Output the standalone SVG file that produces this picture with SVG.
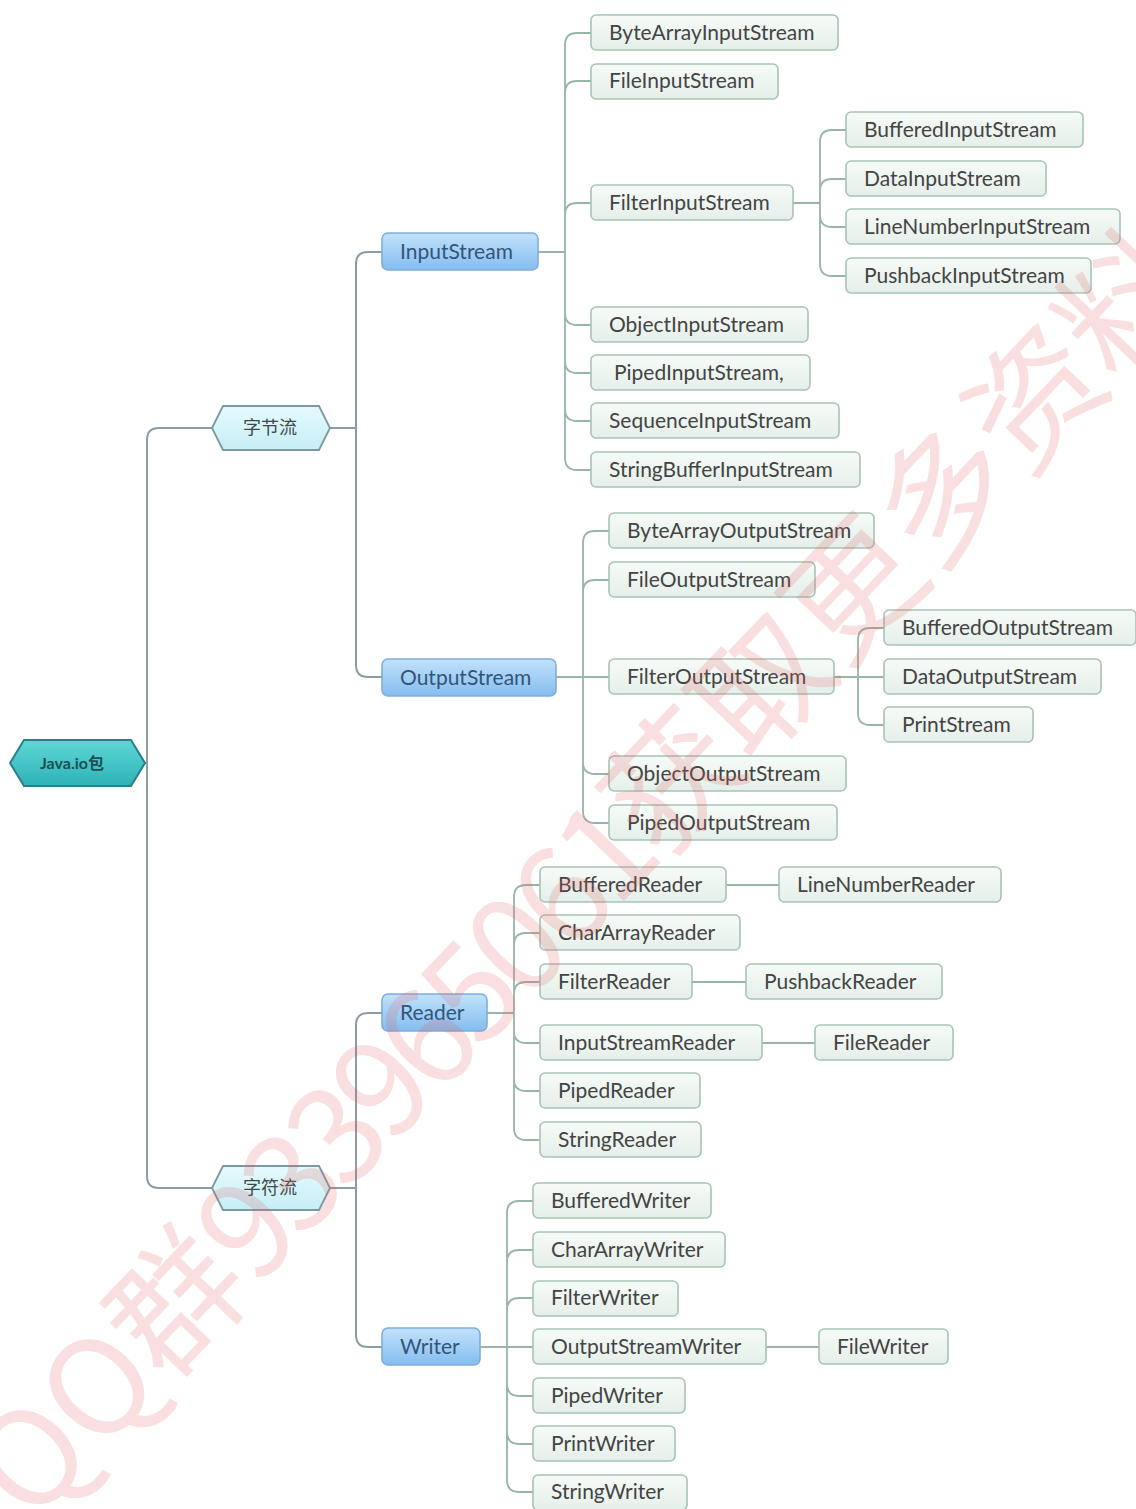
<svg xmlns="http://www.w3.org/2000/svg" width="1136" height="1509" viewBox="0 0 1136 1509">
<defs>
<linearGradient id="gLeaf" x1="0" y1="0" x2="0" y2="1"><stop offset="0" stop-color="#f6fbf8"/><stop offset="1" stop-color="#e5efe9"/></linearGradient>
<linearGradient id="gBlue" x1="0" y1="0" x2="0" y2="1"><stop offset="0" stop-color="#c2e2fb"/><stop offset="1" stop-color="#84bdef"/></linearGradient>
<linearGradient id="gCyan" x1="0" y1="0" x2="0" y2="1"><stop offset="0" stop-color="#e6fafd"/><stop offset="1" stop-color="#c6eef5"/></linearGradient>
<linearGradient id="gRoot" x1="0" y1="0" x2="0" y2="1"><stop offset="0" stop-color="#5fd6d6"/><stop offset="1" stop-color="#2db3b6"/></linearGradient>
<style>
.leaf rect{fill:url(#gLeaf);stroke:#a8c3b5;stroke-width:1.6}
.leaf text{font-family:Lato,"Liberation Sans",sans-serif;font-size:21px;fill:#444444}
.blue rect{fill:url(#gBlue);stroke:#7eaedb;stroke-width:1.6}
.blue text{font-family:Lato,"Liberation Sans",sans-serif;font-size:21px;fill:#33557a}
.hex polygon{fill:url(#gCyan);stroke:#7c98a0;stroke-width:1.8}
.hex text{font-family:"Noto Sans CJK SC",sans-serif;font-size:18px;fill:#3d4a4a;text-anchor:middle}
.root polygon{fill:url(#gRoot);stroke:#2b7f86;stroke-width:2}
.root text{font-family:Lato,"Noto Sans CJK SC",sans-serif;font-size:16px;font-weight:bold;fill:#1b4d52;text-anchor:middle}
.c1 path{fill:none;stroke:#8a9ca6;stroke-width:2}
.c2 path{fill:none;stroke:#98b6a7;stroke-width:1.8}
.wm{font-family:"Noto Sans CJK SC",sans-serif;font-size:132px;font-weight:normal;fill:#e06060;fill-opacity:0.2}
</style>
</defs>
<rect width="1136" height="1509" fill="#ffffff"/>

<g id="connectors">
<g class="c1">
<path d="M145,763 L147,763 M147,763 L147,440 Q147,428 159,428 L212,428 M147,763 L147,1176 Q147,1188 159,1188 L212,1188"/>
<path d="M330,428 L356,428 M356,428 L356,264 Q356,252 368,252 L382,252 M356,428 L356,665 Q356,677 368,677 L382,677"/>
<path d="M330,1188 L356,1188 M356,1188 L356,1025 Q356,1013 368,1013 L382,1013 M356,1188 L356,1335 Q356,1347 368,1347 L382,1347"/>
</g>
<g class="c2">
<path d="M538,252 L565,252 M565,252 L565,45 Q565,33 577,33 L591,33 M565,252 L565,93 Q565,81 577,81 L591,81 M565,252 L565,215 Q565,203 577,203 L591,203 M565,252 L565,313 Q565,325 577,325 L591,325 M565,252 L565,361 Q565,373 577,373 L591,373 M565,252 L565,409 Q565,421 577,421 L591,421 M565,252 L565,458 Q565,470 577,470 L591,470"/>
<path d="M793,203 L820,203 M820,203 L820,142 Q820,130 832,130 L846,130 M820,203 L820,191 Q820,179 832,179 L846,179 M820,203 L820,215 Q820,227 832,227 L846,227 M820,203 L820,264 Q820,276 832,276 L846,276"/>
<path d="M556,677 L583,677 M583,677 L583,543 Q583,531 595,531 L609,531 M583,677 L583,592 Q583,580 595,580 L609,580 M583,677 L609,677 M583,677 L583,762 Q583,774 595,774 L609,774 M583,677 L583,811 Q583,823 595,823 L609,823"/>
<path d="M834,677 L858,677 M858,677 L858,640 Q858,628 870,628 L884,628 M858,677 L884,677 M858,677 L858,713 Q858,725 870,725 L884,725"/>
<path d="M487,1013 L514,1013 M514,1013 L514,897 Q514,885 526,885 L540,885 M514,1013 L514,945 Q514,933 526,933 L540,933 M514,1013 L514,994 Q514,982 526,982 L540,982 M514,1013 L514,1031 Q514,1043 526,1043 L540,1043 M514,1013 L514,1079 Q514,1091 526,1091 L540,1091 M514,1013 L514,1128 Q514,1140 526,1140 L540,1140"/>
<path d="M726,885 L779,885 M692,982 L746,982 M762,1043 L815,1043"/>
<path d="M480,1347 L507,1347 M507,1347 L507,1213 Q507,1201 519,1201 L533,1201 M507,1347 L507,1262 Q507,1250 519,1250 L533,1250 M507,1347 L507,1310 Q507,1298 519,1298 L533,1298 M507,1347 L533,1347 M507,1347 L507,1384 Q507,1396 519,1396 L533,1396 M507,1347 L507,1432 Q507,1444 519,1444 L533,1444 M507,1347 L507,1480 Q507,1492 519,1492 L533,1492"/>
<path d="M766,1347 L819,1347"/>
</g>
</g>

<g id="root" class="root"><polygon points="10,763 24,740 131,740 145,763 131,786 24,786"/><text x="72" y="769">Java.io包</text></g>
<g id="byte" class="hex"><polygon points="212,428 223,406 319,406 330,428 319,450 223,450"/><text x="270" y="434">字节流</text></g>
<g id="char" class="hex"><polygon points="212,1188 223,1166 319,1166 330,1188 319,1210 223,1210"/><text x="270" y="1194">字符流</text></g>

<g id="InputStream" class="blue"><rect x="382" y="233" width="156" height="37" rx="6"/><text x="400" y="259">InputStream</text></g>
<g id="OutputStream" class="blue"><rect x="382" y="659" width="174" height="37" rx="6"/><text x="400" y="685">OutputStream</text></g>
<g id="Reader" class="blue"><rect x="382" y="994" width="105" height="37" rx="6"/><text x="400" y="1020">Reader</text></g>
<g id="Writer" class="blue"><rect x="382" y="1328" width="98" height="37" rx="6"/><text x="400" y="1354">Writer</text></g>

<g id="ByteArrayInputStream" class="leaf"><rect x="591" y="15" width="247" height="35" rx="5"/><text x="609" y="40">ByteArrayInputStream</text></g>
<g id="FileInputStream" class="leaf"><rect x="591" y="64" width="187" height="35" rx="5"/><text x="609" y="88">FileInputStream</text></g>
<g id="FilterInputStream" class="leaf"><rect x="591" y="185" width="202" height="35" rx="5"/><text x="609" y="210">FilterInputStream</text></g>
<g id="ObjectInputStream" class="leaf"><rect x="591" y="307" width="217" height="35" rx="5"/><text x="609" y="332">ObjectInputStream</text></g>
<g id="PipedInputStream" class="leaf"><rect x="591" y="355" width="219" height="35" rx="5"/><text x="614" y="380">PipedInputStream,</text></g>
<g id="SequenceInputStream" class="leaf"><rect x="591" y="403" width="248" height="35" rx="5"/><text x="609" y="428">SequenceInputStream</text></g>
<g id="StringBufferInputStream" class="leaf"><rect x="591" y="452" width="269" height="35" rx="5"/><text x="609" y="477">StringBufferInputStream</text></g>
<g id="BufferedInputStream" class="leaf"><rect x="846" y="112" width="237" height="35" rx="5"/><text x="864" y="137">BufferedInputStream</text></g>
<g id="DataInputStream" class="leaf"><rect x="846" y="161" width="200" height="35" rx="5"/><text x="864" y="186">DataInputStream</text></g>
<g id="LineNumberInputStream" class="leaf"><rect x="846" y="209" width="274" height="35" rx="5"/><text x="864" y="234">LineNumberInputStream</text></g>
<g id="PushbackInputStream" class="leaf"><rect x="846" y="258" width="245" height="35" rx="5"/><text x="864" y="283">PushbackInputStream</text></g>
<g id="ByteArrayOutputStream" class="leaf"><rect x="609" y="513" width="265" height="35" rx="5"/><text x="627" y="538">ByteArrayOutputStream</text></g>
<g id="FileOutputStream" class="leaf"><rect x="609" y="562" width="206" height="35" rx="5"/><text x="627" y="587">FileOutputStream</text></g>
<g id="FilterOutputStream" class="leaf"><rect x="609" y="659" width="225" height="35" rx="5"/><text x="627" y="684">FilterOutputStream</text></g>
<g id="ObjectOutputStream" class="leaf"><rect x="609" y="756" width="237" height="35" rx="5"/><text x="627" y="781">ObjectOutputStream</text></g>
<g id="PipedOutputStream" class="leaf"><rect x="609" y="805" width="228" height="35" rx="5"/><text x="627" y="830">PipedOutputStream</text></g>
<g id="BufferedOutputStream" class="leaf"><rect x="884" y="610" width="252" height="35" rx="5"/><text x="902" y="635">BufferedOutputStream</text></g>
<g id="DataOutputStream" class="leaf"><rect x="884" y="659" width="217" height="35" rx="5"/><text x="902" y="684">DataOutputStream</text></g>
<g id="PrintStream" class="leaf"><rect x="884" y="707" width="149" height="35" rx="5"/><text x="902" y="732">PrintStream</text></g>
<g id="BufferedReader" class="leaf"><rect x="540" y="867" width="186" height="35" rx="5"/><text x="558" y="892">BufferedReader</text></g>
<g id="CharArrayReader" class="leaf"><rect x="540" y="915" width="200" height="35" rx="5"/><text x="558" y="940">CharArrayReader</text></g>
<g id="FilterReader" class="leaf"><rect x="540" y="964" width="152" height="35" rx="5"/><text x="558" y="989">FilterReader</text></g>
<g id="InputStreamReader" class="leaf"><rect x="540" y="1025" width="222" height="35" rx="5"/><text x="558" y="1050">InputStreamReader</text></g>
<g id="PipedReader" class="leaf"><rect x="540" y="1073" width="160" height="35" rx="5"/><text x="558" y="1098">PipedReader</text></g>
<g id="StringReader" class="leaf"><rect x="540" y="1122" width="161" height="35" rx="5"/><text x="558" y="1147">StringReader</text></g>
<g id="LineNumberReader" class="leaf"><rect x="779" y="867" width="222" height="35" rx="5"/><text x="797" y="892">LineNumberReader</text></g>
<g id="PushbackReader" class="leaf"><rect x="746" y="964" width="196" height="35" rx="5"/><text x="764" y="989">PushbackReader</text></g>
<g id="FileReader" class="leaf"><rect x="815" y="1025" width="138" height="35" rx="5"/><text x="833" y="1050">FileReader</text></g>
<g id="BufferedWriter" class="leaf"><rect x="533" y="1183" width="178" height="35" rx="5"/><text x="551" y="1208">BufferedWriter</text></g>
<g id="CharArrayWriter" class="leaf"><rect x="533" y="1232" width="192" height="35" rx="5"/><text x="551" y="1257">CharArrayWriter</text></g>
<g id="FilterWriter" class="leaf"><rect x="533" y="1281" width="145" height="35" rx="5"/><text x="551" y="1305">FilterWriter</text></g>
<g id="OutputStreamWriter" class="leaf"><rect x="533" y="1329" width="233" height="35" rx="5"/><text x="551" y="1354">OutputStreamWriter</text></g>
<g id="PipedWriter" class="leaf"><rect x="533" y="1378" width="152" height="35" rx="5"/><text x="551" y="1403">PipedWriter</text></g>
<g id="PrintWriter" class="leaf"><rect x="533" y="1426" width="142" height="35" rx="5"/><text x="551" y="1451">PrintWriter</text></g>
<g id="StringWriter" class="leaf"><rect x="533" y="1475" width="154" height="35" rx="5"/><text x="551" y="1499">StringWriter</text></g>
<g id="FileWriter" class="leaf"><rect x="819" y="1329" width="129" height="35" rx="5"/><text x="837" y="1354">FileWriter</text></g>

<text class="wm" transform="translate(31,1526) rotate(-46.5)">QQ群<tspan letter-spacing="-8">933965061</tspan>获取更多资料</text>
</svg>
